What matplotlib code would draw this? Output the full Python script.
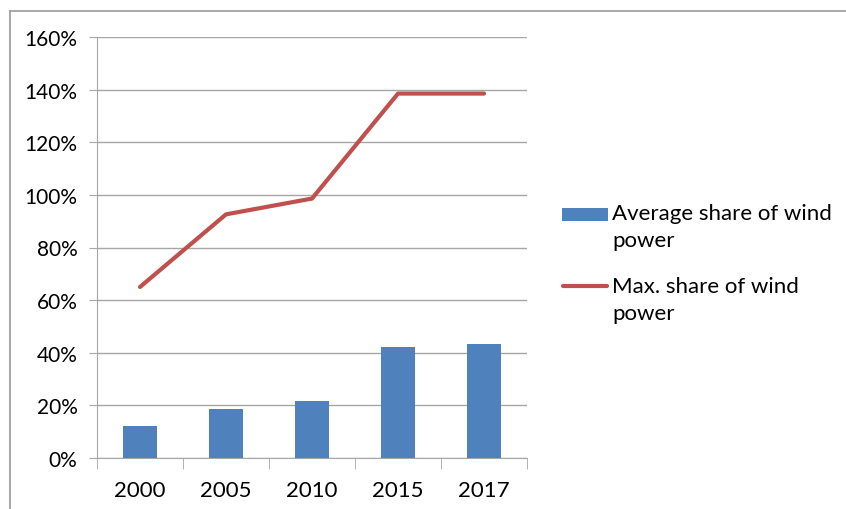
import numpy as np
import matplotlib.pyplot as plt
from matplotlib.lines import Line2D
from matplotlib.patches import Rectangle

plt.rcParams['font.family'] = ['Lato', 'DejaVu Sans']

years = ['2000', '2005', '2010', '2015', '2017']
avg_share = [12.2, 18.6, 21.8, 42.2, 43.4]   # average share of wind power, %
max_share = [65.0, 92.6, 98.6, 138.5, 138.5]  # max. share of wind power, %
yticks = [0, 20, 40, 60, 80, 100, 120, 140, 160]
legend_labels = ['Average share of wind\npower', 'Max. share of wind\npower']

blue = '#4F81BD'
red = '#C0504D'
grid = '#A6A6A6'

W, H = 846, 510
fig = plt.figure(figsize=(W / 100, H / 100), dpi=100)
ax = fig.add_axes([97/W, 1 - 459/H, 430/W, 421/H])

x = np.arange(len(years))
ax.bar(x, avg_share, width=0.4, color=blue, zorder=2)
ax.plot(x, max_share, color=red, lw=3, solid_capstyle='round',
        solid_joinstyle='round', zorder=3)

ax.set_xlim(-0.5, len(years) - 0.5)
ax.set_ylim(0, 160)
ax.set_yticks(yticks)
ax.set_yticklabels([f'{v}%' for v in yticks])
ax.set_xticks(x)
ax.set_xticklabels(years)
ax.set_xticks(np.arange(-0.5, len(years)), minor=True)

ax.grid(axis='y', color=grid, lw=1, zorder=0)
for s in ['top', 'right']:
    ax.spines[s].set_visible(False)
ax.spines['left'].set_color(grid)
ax.spines['bottom'].set_color(grid)
ax.tick_params(axis='y', length=6, color=grid, labelsize=15, pad=8)
ax.tick_params(axis='x', which='major', length=0, labelsize=16, pad=16)
ax.tick_params(axis='x', which='minor', length=8, color=grid)

# legend: key sits beside the first line of each two-line label
fig.add_artist(Rectangle((562/W, 1 - 222/H), 46/W, 13/H, transform=fig.transFigure,
                         facecolor=blue, edgecolor='none'))
fig.add_artist(Line2D([563/W, 607/W], [1 - 287/H, 1 - 287/H], color=red, lw=3,
                      solid_capstyle='round'))
for lab, ytop in zip(legend_labels, [204, 277]):
    fig.text(612/W, 1 - ytop/H, lab, fontsize=16, va='top', ha='left',
             linespacing=1.45)

# outer frame around the chart area
fig.add_artist(Line2D([10/W, 1], [1 - 12/H, 1 - 12/H], color='#9A9A9A', lw=1.2))
fig.add_artist(Line2D([10/W, 10/W], [0, 1 - 12/H], color='#9A9A9A', lw=1.2))

fig.savefig('out.png', dpi=100)
